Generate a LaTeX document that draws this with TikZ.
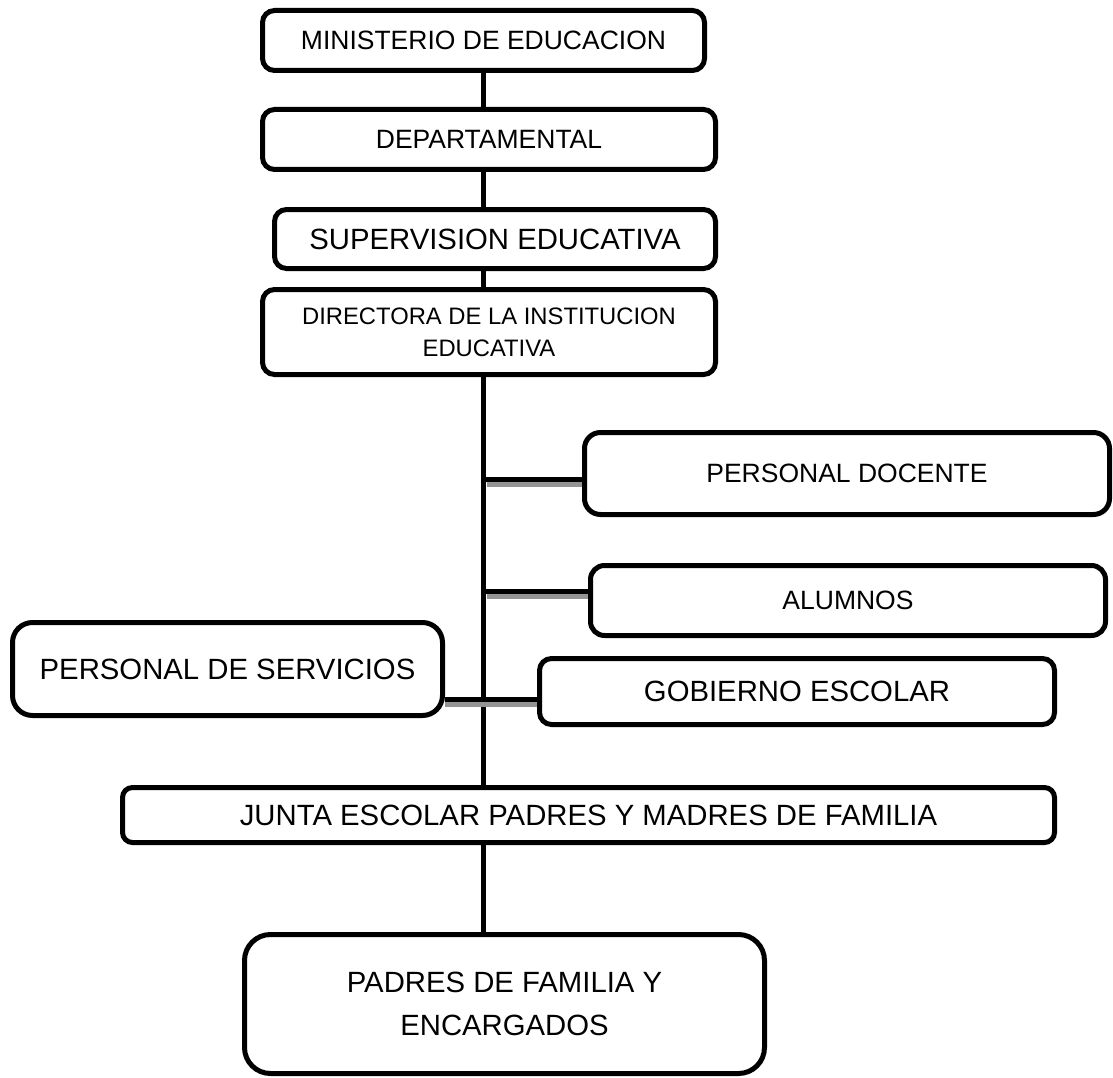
\documentclass[tikz,border=0pt]{standalone}
\usepackage{fontspec}
\setmainfont{Liberation Sans}
\begin{document}
\begin{tikzpicture}[x=1pt,y=-1pt,
  box/.style={draw=black, line width=5pt, rounded corners=12pt, fill=white, inner sep=0pt, align=center},
  fa/.style={font=\fontsize{26.5}{32}\selectfont},
  fb/.style={font=\fontsize{29.3}{43}\selectfont},
  fc/.style={font=\fontsize{23.8}{32}\selectfont},
  link/.style={line width=5pt, draw=black},
  shade/.style={line width=5pt, draw=black!42}]
\useasboundingbox (0,0) rectangle (1113,1078);

\node[box, fa, minimum width=442pt, minimum height=60pt] (min) at (483.5,40.5) {MINISTERIO DE EDUCACION};
\node[box, fa, minimum width=453pt, minimum height=60pt] (dep) at (489,139.5) {DEPARTAMENTAL};
\node[box, fb, minimum width=441pt, minimum height=59pt] (sup) at (495,239) {SUPERVISION EDUCATIVA};
\node[box, fc, minimum width=453pt, minimum height=85pt] (dir) at (489,332) {DIRECTORA DE LA INSTITUCION\\EDUCATIVA};
\node[box, fa, rounded corners=16pt, minimum width=525pt, minimum height=82pt] (pd) at (847,473.5) {PERSONAL DOCENTE};
\node[box, fa, rounded corners=14pt, minimum width=515pt, minimum height=70pt] (alu) at (848,600.5) {ALUMNOS};
\node[box, fb, minimum width=515pt, minimum height=66pt] (gob) at (797,691.5) {GOBIERNO ESCOLAR};
\node[box, fb, rounded corners=20pt, minimum width=430pt, minimum height=93pt] (ps) at (227.5,669) {PERSONAL DE SERVICIOS};
\node[box, fb, rounded corners=10pt, minimum width=932pt, minimum height=55pt] (jun) at (588.5,815) {JUNTA ESCOLAR PADRES Y MADRES DE FAMILIA};
\node[box, fb, rounded corners=26pt, minimum width=520pt, minimum height=139pt] (pad) at (504.5,1004) {PADRES DE FAMILIA Y\\ENCARGADOS};

% vertical links
\draw[link] (min.south) -- (min.south |- dep.north);
\draw[link] (min.south |- dep.south) -- (min.south |- sup.north);
\draw[link] (min.south |- sup.south) -- (min.south |- dir.north);
\draw[link] (min.south |- dir.south) -- (min.south |- jun.north);
\draw[link] (min.south |- jun.south) -- (min.south |- pad.north);

% horizontal links with grey shade
\draw[shade] ([xshift=3pt,yshift=-10.5pt]min.south |- pd.west) -- ([yshift=-10.5pt]pd.west);
\draw[link] ([yshift=-5.5pt]min.south |- pd.west) -- ([yshift=-5.5pt]pd.west);
\draw[shade] ([xshift=3pt,yshift=4.5pt]min.south |- alu.west) -- ([yshift=4.5pt]alu.west);
\draw[link] ([yshift=9.5pt]min.south |- alu.west) -- ([yshift=9.5pt]alu.west);
\draw[shade] ([yshift=-35pt]ps.east) -- ([yshift=-12.5pt]gob.west);
\draw[link] ([yshift=-30pt]ps.east) -- ([yshift=-7.5pt]gob.west);
\end{tikzpicture}
\end{document}
